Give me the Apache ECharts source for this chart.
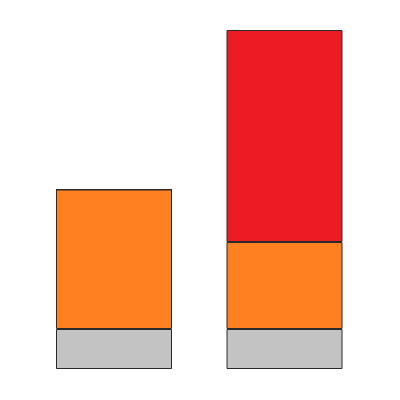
<!DOCTYPE html>
<html>
<head>
<meta charset="utf-8">
<script src="https://cdn.jsdelivr.net/npm/echarts@6/dist/echarts.min.js"></script>
<style>html,body{margin:0;padding:0;background:#fff;}#c{width:400px;height:400px;}</style>
</head>
<body>
<div id="c"></div>
<script>
const categories = ['A', 'B'];
const grayValues = [40, 40];
const orangeValues = [139.5, 87];
const redValues = [0, 212];

const chart = echarts.init(document.getElementById('c'), null, {renderer: 'canvas'});
const border = {borderColor: '#2a2a2a', borderWidth: 1};
chart.setOption({
  animation: false,
  grid: {left: 28.75, right: 30.25, top: 30, bottom: 31},
  xAxis: {type: 'category', data: categories, show: false},
  yAxis: {type: 'value', min: 0, max: 339, show: false},
  series: [
    {type: 'bar', stack: 's', data: grayValues, barWidth: 116, itemStyle: Object.assign({color: '#c3c3c3'}, border)},
    {type: 'bar', stack: 's', data: orangeValues, barWidth: 116, itemStyle: Object.assign({color: '#fe8020'}, border)},
    {type: 'bar', stack: 's', data: redValues, barWidth: 116, itemStyle: Object.assign({color: '#ec1c24'}, border)}
  ]
});
</script>
</body>
</html>
